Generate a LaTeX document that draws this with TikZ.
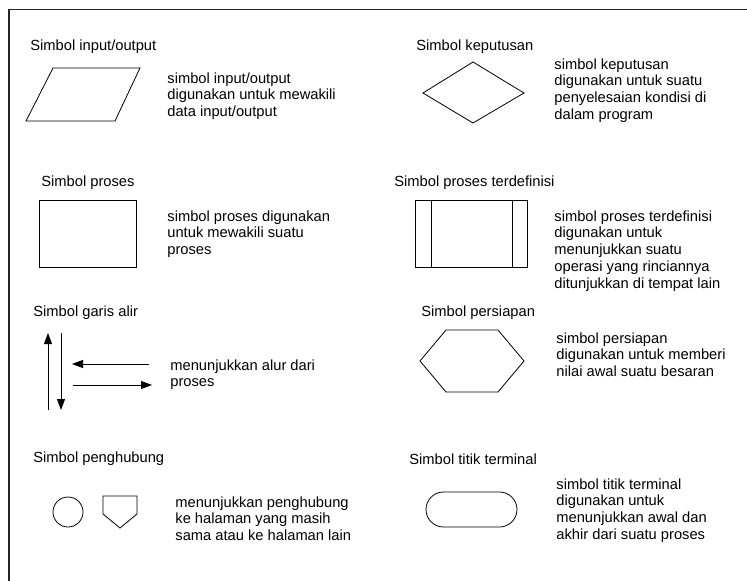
\documentclass[tikz,border=0pt]{standalone}
\usepackage{fontspec}
\setmainfont{Liberation Sans}
\usepackage{tikz}
\usetikzlibrary{arrows.meta}

\tikzset{
  judul/.style={anchor=west,inner sep=0pt,font=\fontsize{14.7}{16.75}\selectfont},
  ket/.style={anchor=north west,inner sep=0pt,align=left,font=\fontsize{14.7}{16.75}\selectfont},
  alir/.style={-{Triangle[length=11pt,width=8pt]}}
}

\begin{document}
\begin{tikzpicture}[x=1pt,y=-1pt,line width=0.8pt]
        \useasboundingbox (0,0) rectangle (747,581);
        \draw[line width=1.1pt,black!85] (9,581) -- (9,9.5) -- (747,9.5); % frame
        % input/output
        \node[judul] (jio) at (30,47) {Simbol input/output};
        \draw (26,121) -- (53,68) -- (140,68) -- (115,121) -- cycle;
        \node[ket] (kio) at (167,72) {simbol input/output\\digunakan untuk mewakili\\data input/output};
        % keputusan
        \node[judul] (jkep) at (416,47) {Simbol keputusan};
        \draw (423,93) -- (473,62) -- (524,93) -- (473,123) -- cycle;
        \node[ket] (kkep) at (554,58) {simbol keputusan\\digunakan untuk suatu\\penyelesaian kondisi di\\dalam program};
        % proses
        \node[judul] (jpro) at (41,183) {Simbol proses};
        \draw (39,200) rectangle (136,267);
        \node[ket] (kpro) at (167,210) {simbol proses digunakan\\untuk mewakili suatu\\proses};
        % proses terdefinisi
        \node[judul] (jdef) at (394,183) {Simbol proses terdefinisi};
        \draw (415,200) rectangle (527,267);
        \draw (431,200) -- (431,267); % inner lines
        \draw (512,200) -- (512,267);
        \node[ket] (kdef) at (554,210) {simbol proses terdefinisi\\digunakan untuk\\menunjukkan suatu\\operasi yang rinciannya\\ditunjukkan di tempat lain};
        % garis alir
        \node[judul] (jalir) at (33,313) {Simbol garis alir};
        \coordinate (a1) at (48,410);  \coordinate (a2) at (48,333);
        \coordinate (b1) at (61,333);  \coordinate (b2) at (61,410);
        \coordinate (c1) at (149,364); \coordinate (c2) at (72,364);
        \coordinate (d1) at (73,385);  \coordinate (d2) at (152,385);
        \draw[alir] (a1) -- (a2);
        \draw[alir] (b1) -- (b2);
        \draw[alir] (c1) -- (c2);
        \draw[alir] (d1) -- (d2);
        \node[ket] (kalir) at (170,359) {menunjukkan alur dari\\proses};
        % persiapan
        \node[judul] (jsiap) at (421,313) {Simbol persiapan};
        \draw (420,361) -- (446,330) -- (498,330) -- (524,361) -- (498,392) -- (446,392) -- cycle;
        \node[ket] (ksiap) at (556,332) {simbol persiapan\\digunakan untuk memberi\\nilai awal suatu besaran};
        % penghubung
        \node[judul] (jhub) at (33,459) {Simbol penghubung};
        \draw (68,512) circle (15);
        \draw (103,496) -- (137,496) -- (137,514) -- (120,528) -- (103,514) -- cycle;
        \node[ket] (khub) at (175,496) {menunjukkan penghubung\\ke halaman yang masih\\sama atau ke halaman lain};
        % titik terminal
        \node[judul] (jterm) at (409,459) {Simbol titik terminal};
        \draw[rounded corners=17.5pt] (426,492) rectangle (517,527);
        \node[ket] (kterm) at (556,478) {simbol titik terminal\\digunakan untuk\\menunjukkan awal dan\\akhir dari suatu proses};
      \end{tikzpicture}
\end{document}
